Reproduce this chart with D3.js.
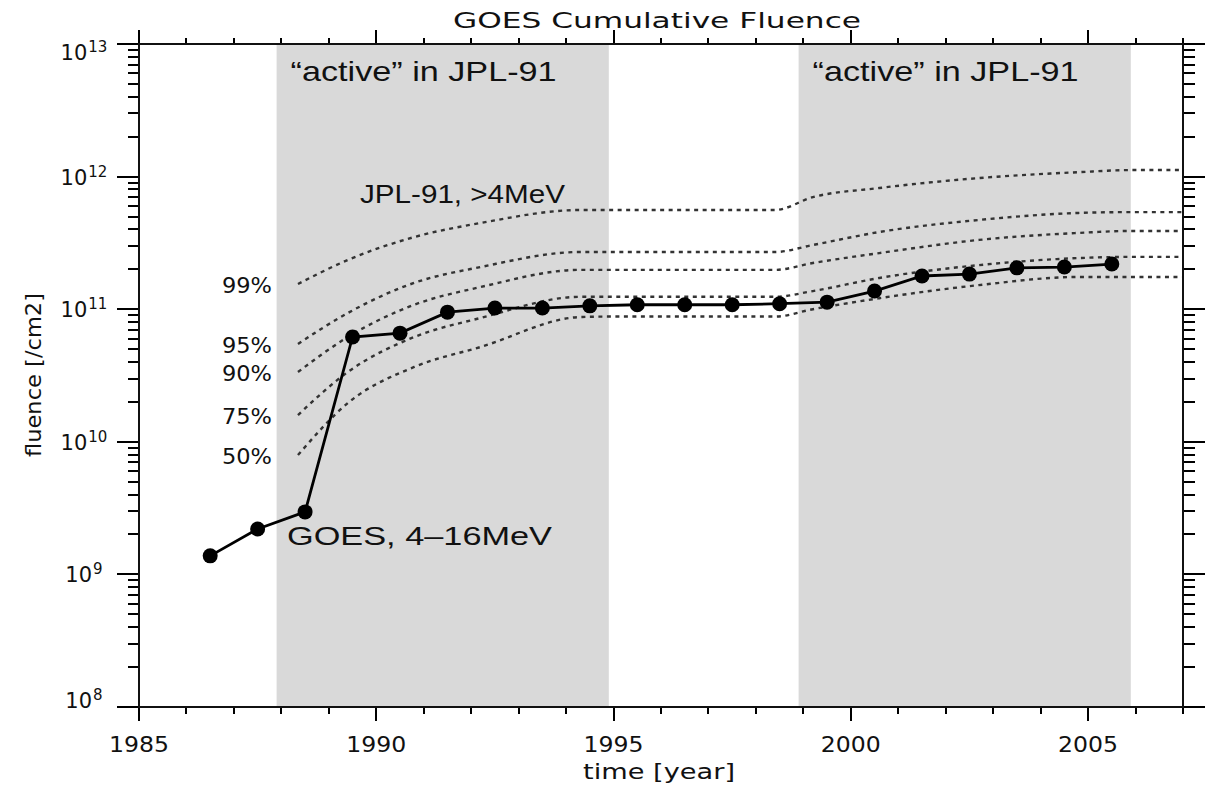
<!DOCTYPE html>
<html>
<head>
<meta charset="utf-8">
<title>GOES Cumulative Fluence</title>
<script src="https://cdn.jsdelivr.net/npm/d3@7"></script>
<style>
  body { margin: 0; background: #fff; }
  svg { display: block; }
</style>
</head>
<body>
<svg id="chart" width="1205" height="785"></svg>
<script>
// GOES measured cumulative fluence, 4-16 MeV
const goesYears = [1986.5, 1987.5, 1988.5, 1989.5, 1990.5, 1991.5, 1992.5, 1993.5, 1994.5, 1995.5,
  1996.5, 1997.5, 1998.5, 1999.5, 2000.5, 2001.5, 2002.5, 2003.5, 2004.5, 2005.5]
const goesFluence = [1.38e9, 2.2e9, 2.96e9, 6.17e10, 6.6e10, 9.5e10, 1.02e11, 1.02e11, 1.06e11, 1.08e11,
  1.08e11, 1.08e11, 1.10e11, 1.13e11, 1.37e11, 1.78e11, 1.84e11, 2.05e11, 2.08e11, 2.19e11]

// JPL-91 model, >4 MeV, confidence levels
const modelYears = [1988.35, 1989.4, 1990.8, 1992.2, 1994.3, 1994.9, 1998.4, 1999.2, 2000.6, 2002.7, 2004.8, 2005.9, 2007]
const jpl99 = [1.55e11, 2.35e11, 3.5e11, 4.47e11, 5.6e11, 5.6e11, 5.6e11, 7.0e11, 8.2e11, 9.75e11, 1.08e12, 1.12e12, 1.12e12]
const jpl95 = [5.47e10, 9.36e10, 1.58e11, 2.08e11, 2.7e11, 2.7e11, 2.7e11, 3.05e11, 3.82e11, 4.71e11, 5.32e11, 5.4e11, 5.4e11]
const jpl90 = [3.36e10, 6.17e10, 1.08e11, 1.47e11, 1.98e11, 1.98e11, 1.98e11, 2.23e11, 2.65e11, 3.33e11, 3.76e11, 3.89e11, 3.89e11]
const jpl75 = [1.59e10, 3.36e10, 6.17e10, 8.59e10, 1.24e11, 1.24e11, 1.24e11, 1.37e11, 1.72e11, 2.15e11, 2.43e11, 2.48e11, 2.48e11]
const jpl50 = [7.94e9, 1.96e10, 3.67e10, 5.19e10, 8.73e10, 8.8e10, 8.8e10, 1.0e11, 1.21e11, 1.52e11, 1.75e11, 1.75e11, 1.75e11]
const jplLabels = ['99%', '95%', '90%', '75%', '50%']

// solar-active periods used by JPL-91
const activeStart = [1987.9, 1998.9]
const activeEnd = [1994.9, 2005.9]
const activeLabel = '\u201cactive\u201d in JPL-91'

const xMajor = [1985, 1990, 1995, 2000, 2005]
const xMinor = d3.range(1985, 2008)
const yDecades = [8, 9, 10, 11, 12, 13]

const svg = d3.select('#chart')
const margin = { left: 139, right: 1183, top: 44, bottom: 707 }

const x = d3.scaleLinear().domain([1985, 2007]).range([margin.left, margin.right])
const y = d3.scaleLog().domain([1e8, 1e13]).range([margin.bottom, margin.top])

const sans = 'Liberation Sans, Arial, sans-serif'
const idl = 'DejaVu Sans, Verdana, sans-serif'

// shaded active periods
svg.selectAll('rect.active')
  .data(activeStart)
  .enter().append('rect')
  .attr('class', 'active')
  .attr('x', (d) => x(d))
  .attr('width', (d, i) => x(activeEnd[i]) - x(d))
  .attr('y', margin.top)
  .attr('height', margin.bottom - margin.top)
  .attr('fill', '#d9d9d9')

svg.selectAll('text.active')
  .data(activeStart)
  .enter().append('text')
  .attr('class', 'active')
  .attr('x', (d) => x(d) + 14)
  .attr('y', 81)
  .attr('font-family', sans)
  .attr('font-size', 28)
  .attr('textLength', 266)
  .attr('lengthAdjust', 'spacingAndGlyphs')
  .attr('fill', '#111')
  .text(activeLabel)

// JPL-91 curves
const jplSeries = [jpl99, jpl95, jpl90, jpl75, jpl50]
const modelLine = d3.line()
  .x((d, i) => x(modelYears[i]))
  .y((d) => y(d))
  .curve(d3.curveMonotoneX)

svg.selectAll('path.jpl')
  .data(jplSeries)
  .enter().append('path')
  .attr('class', 'jpl')
  .attr('d', modelLine)
  .attr('fill', 'none')
  .attr('stroke', '#333')
  .attr('stroke-width', 2.4)
  .attr('stroke-dasharray', '4,4.5')

svg.selectAll('text.pct')
  .data(jplSeries)
  .enter().append('text')
  .attr('class', 'pct')
  .attr('x', x(modelYears[0]) - 26)
  .attr('y', (d) => y(d[0]) + 9)
  .attr('text-anchor', 'end')
  .attr('font-family', idl)
  .attr('font-size', 22)
  .attr('textLength', 50)
  .attr('lengthAdjust', 'spacingAndGlyphs')
  .attr('fill', '#111')
  .text((d, i) => jplLabels[i])

svg.append('text')
  .attr('x', 360)
  .attr('y', 203)
  .attr('font-family', sans)
  .attr('font-size', 26)
  .attr('textLength', 205)
  .attr('lengthAdjust', 'spacingAndGlyphs')
  .attr('fill', '#111')
  .text('JPL-91, >4MeV')

// GOES measurements
const goesLine = d3.line()
  .x((d, i) => x(goesYears[i]))
  .y((d) => y(d))

svg.append('path')
  .datum(goesFluence)
  .attr('d', goesLine)
  .attr('fill', 'none')
  .attr('stroke', '#000')
  .attr('stroke-width', 2.8)

svg.selectAll('circle.goes')
  .data(goesFluence)
  .enter().append('circle')
  .attr('class', 'goes')
  .attr('cx', (d, i) => x(goesYears[i]))
  .attr('cy', (d) => y(d))
  .attr('r', 7.5)
  .attr('fill', '#000')

svg.append('text')
  .attr('x', 287)
  .attr('y', 545)
  .attr('font-family', sans)
  .attr('font-size', 26)
  .attr('textLength', 265)
  .attr('lengthAdjust', 'spacingAndGlyphs')
  .attr('fill', '#111')
  .text('GOES, 4\u201316MeV')

// axes: ticks point outward on all four sides
const yMinor = []
yDecades.slice(0, -1).forEach((p) => {
  for (let k = 2; k <= 9; k++) yMinor.push(k * Math.pow(10, p))
})
const yMajorVals = yDecades.map((p) => Math.pow(10, p))

function xTicks (vals, y0, len) {
  svg.append('g')
    .attr('shape-rendering', 'crispEdges')
    .selectAll('line')
    .data(vals)
    .enter().append('line')
    .attr('x1', (d) => x(d))
    .attr('x2', (d) => x(d))
    .attr('y1', y0)
    .attr('y2', y0 + len)
    .attr('stroke', '#000')
    .attr('stroke-width', 2)
}

function yTicks (vals, x0, len) {
  svg.append('g')
    .attr('shape-rendering', 'crispEdges')
    .selectAll('line')
    .data(vals)
    .enter().append('line')
    .attr('x1', x0)
    .attr('x2', x0 + len)
    .attr('y1', (d) => y(d))
    .attr('y2', (d) => y(d))
    .attr('stroke', '#000')
    .attr('stroke-width', 2)
}

xTicks(xMinor, margin.bottom, 7)
xTicks(xMajor, margin.bottom, 14)
xTicks(xMinor, margin.top, -6)
xTicks(xMajor, margin.top, -14)
yTicks(yMinor, margin.left, -11)
yTicks(yMajorVals, margin.left, -22)
yTicks(yMinor, margin.right, 12)
yTicks(yMajorVals, margin.right, 22)

svg.append('rect')
  .attr('x', margin.left)
  .attr('y', margin.top)
  .attr('width', margin.right - margin.left)
  .attr('height', margin.bottom - margin.top)
  .attr('fill', 'none')
  .attr('stroke', '#111')
  .attr('stroke-width', 2)

svg.selectAll('text.xlab')
  .data(xMajor)
  .enter().append('text')
  .attr('class', 'xlab')
  .attr('x', (d) => x(d))
  .attr('y', 752)
  .attr('text-anchor', 'middle')
  .attr('font-family', idl)
  .attr('font-size', 22)
  .attr('textLength', 60)
  .attr('lengthAdjust', 'spacingAndGlyphs')
  .attr('fill', '#111')
  .text((d) => d)

const ylab = svg.selectAll('text.ylab')
  .data(yDecades)
  .enter().append('text')
  .attr('class', 'ylab')
  .attr('x', 84)
  .attr('y', (d, i) => y(Math.pow(10, d)) + (i === 0 ? 1 : (i === yDecades.length - 1 ? 16 : 8)))
  .attr('text-anchor', 'middle')
  .attr('font-family', idl)
  .attr('fill', '#111')
ylab.append('tspan').attr('font-size', 21).text('10')
ylab.append('tspan').attr('font-size', 15).attr('dy', -8).attr('dx', 1).text((d) => d)

svg.append('text')
  .attr('x', 657)
  .attr('y', 28)
  .attr('text-anchor', 'middle')
  .attr('font-family', idl)
  .attr('font-size', 22)
  .attr('textLength', 408)
  .attr('lengthAdjust', 'spacingAndGlyphs')
  .attr('fill', '#111')
  .text('GOES Cumulative Fluence')

svg.append('text')
  .attr('x', 659)
  .attr('y', 779)
  .attr('text-anchor', 'middle')
  .attr('font-family', idl)
  .attr('font-size', 21)
  .attr('textLength', 152)
  .attr('lengthAdjust', 'spacingAndGlyphs')
  .attr('fill', '#111')
  .text('time [year]')

svg.append('text')
  .attr('transform', 'translate(41,375) rotate(-90)')
  .attr('text-anchor', 'middle')
  .attr('font-family', idl)
  .attr('font-size', 22)
  .attr('textLength', 164)
  .attr('lengthAdjust', 'spacingAndGlyphs')
  .attr('fill', '#111')
  .text('fluence [/cm2]')
</script>
</body>
</html>
